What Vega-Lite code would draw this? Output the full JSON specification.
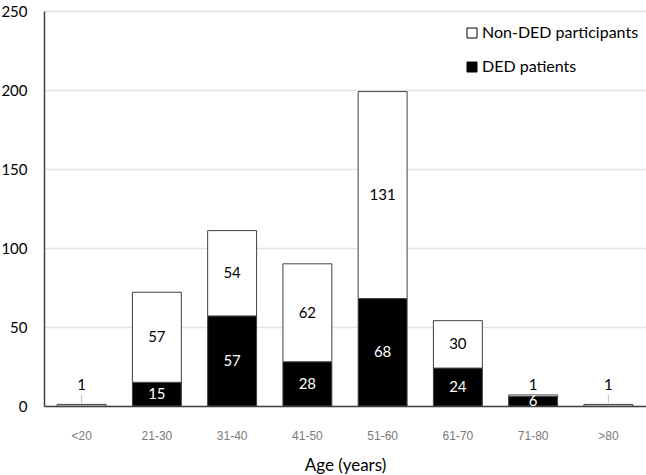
{
  "$schema": "https://vega.github.io/schema/vega-lite/v6.json",
  "width": 602,
  "height": 395,
  "autosize": {"type": "none"},
  "padding": {"left": 44, "top": 11, "right": 0, "bottom": 69},
  "background": "white",
  "config": {"view": {"stroke": null}, "font": "Lato"},
  "data": {
    "values": [
      {"age": "<20", "group": "DED patients", "count": 0},
      {"age": "<20", "group": "Non-DED participants", "count": 1},
      {"age": "21-30", "group": "DED patients", "count": 15},
      {"age": "21-30", "group": "Non-DED participants", "count": 57},
      {"age": "31-40", "group": "DED patients", "count": 57},
      {"age": "31-40", "group": "Non-DED participants", "count": 54},
      {"age": "41-50", "group": "DED patients", "count": 28},
      {"age": "41-50", "group": "Non-DED participants", "count": 62},
      {"age": "51-60", "group": "DED patients", "count": 68},
      {"age": "51-60", "group": "Non-DED participants", "count": 131},
      {"age": "61-70", "group": "DED patients", "count": 24},
      {"age": "61-70", "group": "Non-DED participants", "count": 30},
      {"age": "71-80", "group": "DED patients", "count": 6},
      {"age": "71-80", "group": "Non-DED participants", "count": 1},
      {"age": ">80", "group": "DED patients", "count": 0},
      {"age": ">80", "group": "Non-DED participants", "count": 1}
    ]
  },
  "transform": [
    {"stack": "count", "groupby": ["age"], "sort": [{"field": "group", "order": "ascending"}], "as": ["y0", "y1"]},
    {"calculate": "(datum.y0 + datum.y1) / 2", "as": "mid"}
  ],
  "encoding": {
    "x": {
      "field": "age", "type": "nominal",
      "sort": ["<20", "21-30", "31-40", "41-50", "51-60", "61-70", "71-80", ">80"],
      "scale": {"paddingInner": 0.35, "paddingOuter": 0.175},
      "axis": {
        "title": "Age (years)", "titleFont": "Lato", "titleFontSize": 17, "titleFontWeight": "normal", "titleColor": "black", "titlePadding": 16,
        "labelAngle": 0, "labelFont": "Liberation Sans", "labelFontSize": 12, "labelColor": "#7a7a7a", "labelPadding": 24,
        "ticks": false, "domainColor": "#404040", "domainWidth": 1.5, "grid": false
      }
    }
  },
  "layer": [
    {
      "mark": {"type": "bar", "stroke": "#404040", "strokeWidth": 1},
      "encoding": {
        "y": {
          "field": "y0", "type": "quantitative",
          "scale": {"domain": [0, 250], "nice": false},
          "axis": {
            "title": null, "values": [0, 50, 100, 150, 200, 250], "ticks": false,
            "labelFont": "Lato", "labelFontSize": 15, "labelColor": "black", "labelPadding": 17,
            "domainColor": "#404040", "domainWidth": 1.5, "grid": true, "gridColor": "#e3e3e3", "gridWidth": 1.5
          }
        },
        "y2": {"field": "y1"},
        "fill": {
          "field": "group", "type": "nominal",
          "scale": {"domain": ["Non-DED participants", "DED patients"], "range": ["white", "black"]},
          "legend": {
            "title": null, "orient": "none", "legendX": 420, "legendY": 14,
            "symbolType": "square", "symbolSize": 100, "symbolStrokeColor": "black", "symbolStrokeWidth": 1,
            "labelFont": "Lato", "labelFontSize": 16, "labelColor": "black", "rowPadding": 18, "labelOffset": 2
          }
        }
      }
    },
    {
      "transform": [{"filter": "datum.count > 1"}],
      "mark": {"type": "text", "font": "Lato", "fontSize": 15, "baseline": "middle", "align": "center"},
      "encoding": {
        "y": {"field": "mid", "type": "quantitative"},
        "text": {"field": "count", "type": "quantitative"},
        "color": {
          "condition": {"test": "datum.group === 'DED patients'", "value": "white"},
          "value": "black"
        }
      }
    },
    {
      "transform": [{"filter": "datum.count === 1"}],
      "mark": {"type": "text", "font": "Lato", "fontSize": 15, "baseline": "middle", "align": "center", "color": "black"},
      "encoding": {
        "y": {"datum": 13, "type": "quantitative"},
        "text": {"field": "count", "type": "quantitative"}
      }
    },
    {
      "transform": [{"filter": "datum.count === 1 && (datum.age === '<20' || datum.age === '>80')"}],
      "mark": {"type": "rule", "color": "#bfbfbf", "strokeWidth": 1},
      "encoding": {
        "y": {"datum": 1.9, "type": "quantitative"},
        "y2": {"datum": 7}
      }
    }
  ]
}
